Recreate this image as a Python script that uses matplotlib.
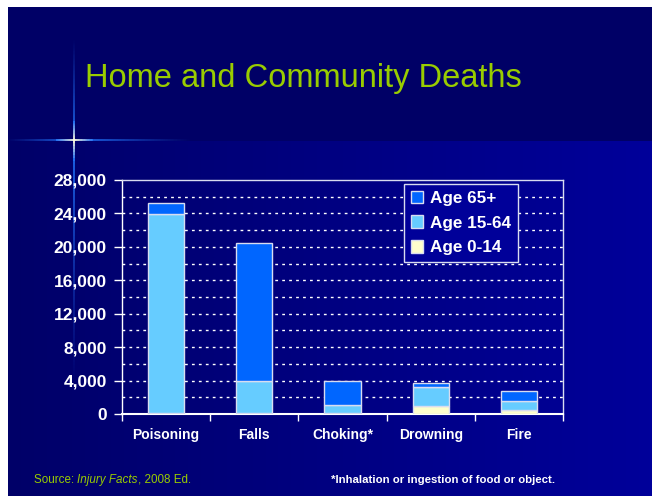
import numpy as np
import matplotlib
matplotlib.use("Agg")
import matplotlib.pyplot as plt
from matplotlib.collections import LineCollection
from matplotlib.colors import to_rgba

# data
categories = ['Poisoning', 'Falls', 'Choking*', 'Drowning', 'Fire']
age_0_14 = [100, 100, 100, 1000, 500]
age_15_64 = [23800, 3850, 1000, 2200, 1100]
age_65_plus = [1300, 16500, 2900, 450, 1200]
y_ticks = [0, 4000, 8000, 12000, 16000, 20000, 24000, 28000]
y_grid = list(range(2000, 28000, 2000))

c65 = '#0066FF'
c15 = '#66CCFF'
c0 = '#FFFFCC'
green = '#99CC00'
edge = '#D8DCF0'

plt.rcParams['font.family'] = ['Liberation Sans', 'DejaVu Sans']

fig = plt.figure(figsize=(6.52, 4.96), dpi=100)
fig.patch.set_facecolor('white')

# slide background
W, H = 652, 496
bg = fig.add_axes([8 / W, 0, 1 - 8 / W, 1 - 7 / H])
bg.set_xlim(8, W)
bg.set_ylim(H, 7)
bg.axis('off')
grad = np.zeros((2, 200, 3))
t = np.linspace(0, 1, 200)
grad[0, :, 2] = 0x66 / 255
grad[1, :, 2] = (0x68 + (0x9A - 0x68) * t) / 255
bg.imshow(grad[1:2], extent=(8, W, H, 141), aspect='auto', zorder=0)
bg.imshow(grad[0:1], extent=(8, W, 141, 7), aspect='auto', zorder=0)

# sparkle lines
sx, sy = 74.5, 140
white = np.array(to_rgba('#FFFFE0'))
blue = np.array(to_rgba('#2277FF'))
segs = []
cols = []
for (a, b) in [((sx, sy), (8, sy)), ((sx, sy), (190, sy)),
               ((sx, sy), (sx, 40)), ((sx, sy), (sx, 380))]:
    pts = np.linspace(a, b, 81)
    L = np.hypot(b[0] - a[0], b[1] - a[1])
    for i in range(80):
        d = L * i / 80
        mix = min(1.0, d / 18)
        c = white * (1 - mix) + blue * mix
        c[3] = max(0.0, 1 - (d / L) ** 0.8) if d > 18 else 1.0
        segs.append([pts[i], pts[i + 1]])
        cols.append(tuple(c))
bg.add_collection(LineCollection(segs, colors=cols, linewidths=1.3, zorder=1))

bg.text(85, 79, 'Home and Community Deaths', color=green, fontsize=23.5,
        ha='left', va='center', zorder=2)

# chart
ax = fig.add_axes([122 / W, 1 - 414 / H, (563 - 122) / W, (414 - 180) / H])
ax.set_facecolor('none')
x = np.arange(len(categories))
w = 0.41
b1 = np.array(age_0_14)
b2 = b1 + np.array(age_15_64)
ax.bar(x, age_0_14, w, color=c0, edgecolor=edge, linewidth=1, label='Age 0-14', zorder=3)
ax.bar(x, age_15_64, w, bottom=b1, color=c15, edgecolor=edge, linewidth=1, label='Age 15-64', zorder=3)
ax.bar(x, age_65_plus, w, bottom=b2, color=c65, edgecolor=edge, linewidth=1, label='Age 65+', zorder=3)

for g in y_grid:
    ax.axhline(g, color='white', linestyle=(0, (2, 3)), linewidth=1, zorder=1)

ax.set_xlim(-0.5, len(categories) - 0.5)
ax.set_ylim(0, 28000)
ax.set_yticks(y_ticks)
ax.set_yticklabels([f'{v:,}' for v in y_ticks])
ax.set_xticks(x)
ax.set_xticklabels(categories)
ax.set_xticks(np.arange(-0.5, len(categories)), minor=True)
ax.tick_params(axis='x', which='major', length=0, pad=10, labelsize=10,
               labelcolor='white')
ax.tick_params(axis='x', which='minor', length=5, color='white', width=1, direction='out')
ax.tick_params(axis='y', length=6, color='white', width=1, pad=5, labelsize=12.5,
               labelcolor='white')
for lab in ax.get_xticklabels() + ax.get_yticklabels():
    lab.set_fontweight('bold')
for sp in ax.spines.values():
    sp.set_color(edge)
    sp.set_linewidth(1)
ax.spines['left'].set_color('white')
ax.spines['bottom'].set_color('white')
ax.spines['bottom'].set_linewidth(1.5)

h, l = ax.get_legend_handles_labels()
leg = ax.legend(h[::-1], l[::-1], loc='upper left', bbox_to_anchor=(0.639, 0.983),
                borderaxespad=0, frameon=True, fancybox=False, facecolor='#000099',
                edgecolor=edge, framealpha=1, handlelength=0.75, handleheight=0.75,
                handletextpad=0.4, labelspacing=0.55, borderpad=0.4,
                prop={'weight': 'bold', 'size': 12.3})
leg.get_frame().set_linewidth(1)
for txt in leg.get_texts():
    txt.set_color('white')
leg.set_zorder(5)

# footer
t1 = bg.text(34, 480, 'Source: ', color=green, fontsize=8.4,
             ha='left', va='center')
t2 = bg.annotate('Injury Facts', xy=(1, 0), xycoords=t1, color=green, fontsize=8.4,
                 style='italic', ha='left', va='bottom')
bg.annotate(', 2008 Ed.', xy=(1, 0), xycoords=t2, color=green, fontsize=8.4,
            ha='left', va='bottom')
bg.text(331, 480, '*Inhalation or ingestion of food or object.', color='white',
        fontsize=8.2, fontweight='bold', ha='left', va='center')

fig.savefig('out.png', dpi=100, facecolor=fig.get_facecolor())
